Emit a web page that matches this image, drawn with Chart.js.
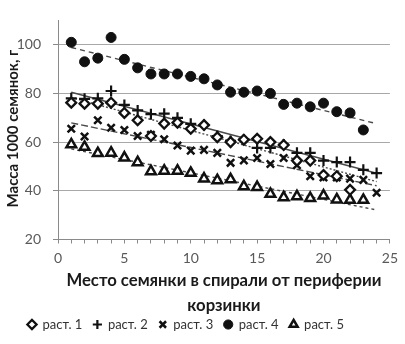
<!DOCTYPE html>
<html><head><meta charset="utf-8">
<script src="https://cdn.jsdelivr.net/npm/chart.js@4/dist/chart.umd.min.js"></script>
<style>html,body{margin:0;padding:0;background:#fff}#wrap{width:405px;height:344px}</style>
</head><body><div id="wrap"><canvas id="c" width="405" height="344"></canvas></div>
<script>
// ---- data ----
const positions = [1,2,3,4,5,6,7,8,9,10,11,12,13,14,15,16,17,18,19,20,21,22,23,24];
const seriesNames = ['раст. 1','раст. 2','раст. 3','раст. 4','раст. 5'];
const rast1 = [76.2,75.8,75.8,76.2,72,69,62.5,67.6,68,65.5,67,62,60,61,61.4,60,58.8,52.4,52.4,46.5,46,40.4];
const rast2 = [78,77.8,78,81,75.3,73,71.5,71.7,70,67.5,67,62.5,60.5,61,57.6,57.6,59,55.6,55.6,52.4,51.8,51.8,48.6,47.3];
const rast3 = [65.5,62.3,69,65.9,65,62.5,63,61.2,58.6,56.5,56.8,55.6,51.5,52.5,53.5,51,53.5,50.5,46,45.5,45.5,45,44.5,39.2];
const rast4 = [101,93,94.5,103,94,90.5,88,88,88,87,86,83.5,80.5,80.5,81,80,75.5,76,74.5,76,72.5,72,65];
const rast5 = [59,58,55.4,55.6,53.6,51.7,48,48.2,48.2,47.3,45,44.3,44.7,41.8,41.5,38.7,37.3,37.7,37,38,36.4,36.2,36.2];
const yTickValues = [20,40,60,80,100];
const xTickLabels = [0,5,10,15,20,25];
const trendRange = [1,24];
const xTitle = ['Место семянки в спирали от периферии','корзинки'];
const yTitle = 'Масса 1000 семянок, г';

// ---- styles ----
const INK = '#111111';
const markerStyles = [
  {pointStyle:'rectRot', radius:4.9, borderWidth:2.3, fill:'#ffffff'},
  {pointStyle:'cross', radius:5.5, borderWidth:2.2, fill:INK},
  {pointStyle:'crossRot', radius:5.2, borderWidth:2.5, fill:INK},
  {pointStyle:'circle', radius:5, borderWidth:1, fill:INK},
  {pointStyle:'triangle', radius:5.6, borderWidth:2.5, fill:'#ffffff'}
];
const trendDash = [[2,2],[],[7,3],[5,4],[3,3]];
const allSeries = [rast1,rast2,rast3,rast4,rast5];

function toPoints(vals){ return vals.map((v,i)=>({x:positions[i], y:v})); }
function regression(vals){
  const n = vals.length; let sx=0,sy=0,sxx=0,sxy=0;
  vals.forEach((v,i)=>{const x=positions[i]; sx+=x; sy+=v; sxx+=x*x; sxy+=x*v;});
  const b = (n*sxy - sx*sy)/(n*sxx - sx*sx); const a = (sy - b*sx)/n;
  return trendRange.map(x=>({x:x, y:a+b*x}));
}

const datasets = [];
allSeries.forEach((vals,i)=>{
  const m = markerStyles[i];
  datasets.push({label:seriesNames[i], data:toPoints(vals), showLine:false,
    pointStyle:m.pointStyle, pointRadius:m.radius, pointBorderWidth:m.borderWidth,
    borderWidth:Math.min(m.borderWidth,2), borderColor:INK, backgroundColor:m.fill,
    pointBackgroundColor:m.fill, pointBorderColor:INK, pointHoverRadius:m.radius});
});
allSeries.forEach((vals,i)=>{
  datasets.push({label:'trend'+i, data:regression(vals), showLine:true, pointRadius:0,
    borderColor:'#4a4a4a', borderWidth:1.4, borderDash:trendDash[i], fill:false});
});

const FONT = 'Lato, "Liberation Sans", sans-serif';
const AXIS = '#8a8a8a';

const tweak = {
  id:'tweak',
  afterLayout(chart){
    const lg = chart.legend; if(!lg) return;
    const shift = -9; lg.left += shift; lg.right += shift;
    lg.top -= 3; lg.bottom -= 3;
  },
  afterDraw(chart){
    const ctx = chart.ctx;
    ctx.save();
    ctx.fillStyle = '#1a1a1a';
    ctx.font = 'bold 15px ' + FONT;
    ctx.textAlign='center'; ctx.textBaseline='middle';
    ctx.translate(13, 128.5); ctx.rotate(-Math.PI/2);
    ctx.fillText(yTitle, 0, 0);
    ctx.restore();
  }
};

new Chart(document.getElementById('c'), {
  type:'scatter',
  data:{datasets},
  options:{
    responsive:false, animation:false, devicePixelRatio:1,
    layout:{padding:{top:2,right:15,left:0,bottom:0}},
    plugins:{
      tooltip:{enabled:false},
      legend:{position:'bottom', align:'center',
        labels:{usePointStyle:true, boxWidth:8, boxHeight:6.5, padding:11, color:'#333333',
          font:{family:FONT, size:13},
          filter:(item)=>item.datasetIndex<5}}
    },
    scales:{
      x:{type:'linear', min:0, max:25,
        afterBuildTicks(s){ const t=[]; for(let v=0; v<=25; v++) t.push({value:v}); s.ticks=t; },
        afterFit(s){ s.height = 70.5; },
        border:{color:AXIS, width:1},
        grid:{drawOnChartArea:false, drawTicks:true, tickLength:4, tickColor:AXIS},
        ticks:{autoSkip:false, maxRotation:0, padding:7, color:'#595959', font:{family:FONT, size:14},
          callback:(v)=>xTickLabels.includes(v)?String(v):''},
        title:{display:true, text:xTitle, color:'#1a1a1a', padding:{top:0,bottom:-8.5},
          font:{family:FONT, size:16.7, weight:'bold', lineHeight:25/16.7}}
      },
      y:{type:'linear', min:20, max:110,
        afterBuildTicks(s){ s.ticks = yTickValues.map(v=>({value:v})); },
        afterFit(s){ s.width = 58; },
        border:{color:AXIS, width:1},
        grid:{color:(c)=>c.tick && c.tick.value===20 ? 'rgba(0,0,0,0)' : '#a8a8a8', lineWidth:1,
          drawTicks:true, tickLength:5, tickColor:AXIS},
        ticks:{padding:12, color:'#595959', font:{family:FONT, size:14}},
        title:{display:false}
      }
    }
  },
  plugins:[tweak]
});
</script></body></html>
